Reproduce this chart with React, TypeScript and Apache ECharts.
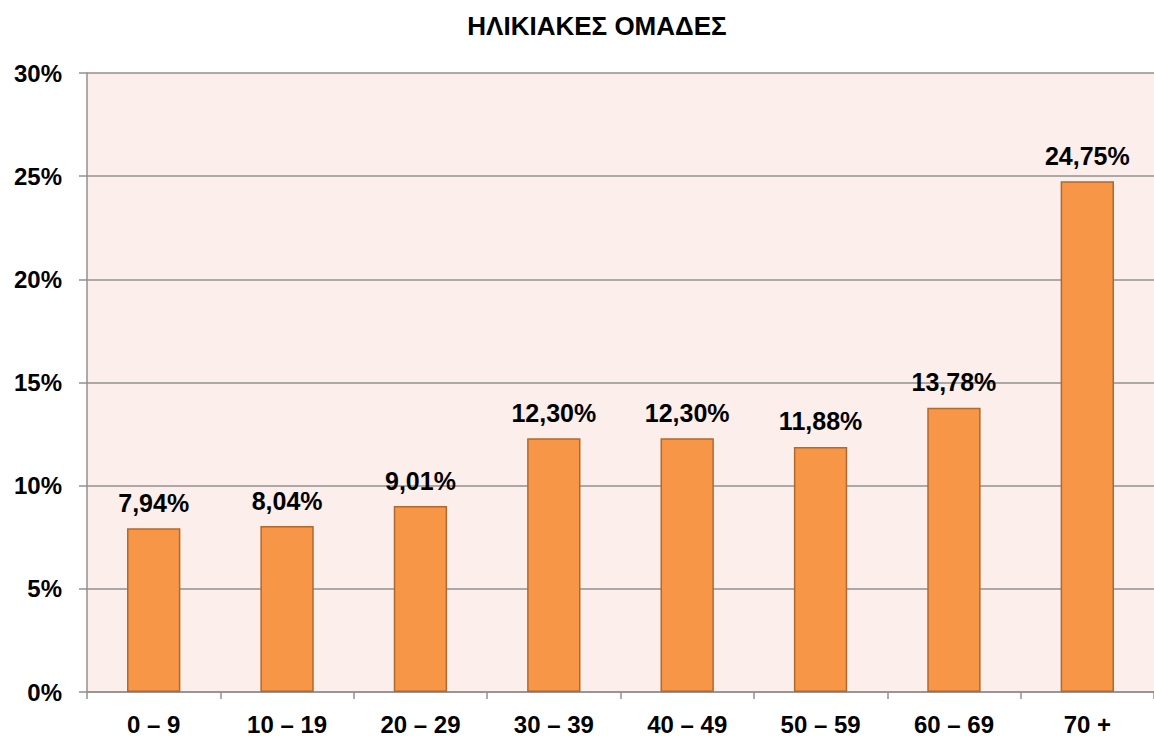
import React, { useEffect, useRef } from "react";
import * as echarts from "echarts";

const categories = ["0 – 9", "10 – 19", "20 – 29", "30 – 39", "40 – 49", "50 – 59", "60 – 69", "70 +"];
const values = [7.94, 8.04, 9.01, 12.3, 12.3, 11.88, 13.78, 24.75];
const title = "ΗΛΙΚΙΑΚΕΣ ΟΜΑΔΕΣ";

export default function App() {
  const ref = useRef<HTMLDivElement>(null);
  useEffect(() => {
    if (!ref.current) return;
    const chart = echarts.init(ref.current, null, { renderer: "svg" });
    const font = "Liberation Sans, Arial, sans-serif";
    chart.setOption({
      animation: false,
      backgroundColor: "#ffffff",
      title: {
        text: title,
        left: 592,
        textAlign: "center",
        top: 8,
        textStyle: { fontFamily: font, fontWeight: "bold", fontSize: 26, color: "#000" },
      },
      grid: {
        left: 87,
        top: 73,
        width: 1077,
        height: 619,
        show: true,
        backgroundColor: "#FCEEEA",
        borderWidth: 0,
      },
      xAxis: {
        type: "category",
        data: categories,
        boundaryGap: true,
        axisLine: { show: true, lineStyle: { color: "#909090", width: 1.5 } },
        axisTick: { show: true, alignWithLabel: false, length: 7, lineStyle: { color: "#909090", width: 1.5 } },
        axisLabel: { fontFamily: font, fontWeight: "bold", fontSize: 24, color: "#000", margin: 20 },
      },
      yAxis: {
        type: "value",
        min: 0,
        max: 30,
        interval: 5,
        axisLine: { show: true, lineStyle: { color: "#909090", width: 1.5 } },
        axisTick: { show: true, inside: false, length: 8, lineStyle: { color: "#909090", width: 1.5 } },
        axisLabel: {
          fontFamily: font,
          fontWeight: "bold",
          fontSize: 24,
          color: "#000",
          margin: 25,
          formatter: (v: number) => v + "%",
        },
        splitLine: { show: true, lineStyle: { color: "#909090", width: 1.5 } },
      },
      series: [
        {
          type: "bar",
          data: values,
          barWidth: "40%",
          itemStyle: { color: "#F79646", borderColor: "#B0692F", borderWidth: 1.5 },
          label: {
            show: true,
            position: "top",
            distance: 13,
            fontFamily: font,
            fontWeight: "bold",
            fontSize: 25,
            color: "#000",
            formatter: (p: any) => p.value.toFixed(2).replace(".", ",") + "%",
          },
        },
      ],
    });
    return () => chart.dispose();
  }, []);
  return (
    <div style={{ position: "fixed", left: 0, top: 0, width: 1154, height: 736, overflow: "hidden" }}>
      <div ref={ref} style={{ width: 1154, height: 736 }} />
    </div>
  );
}
